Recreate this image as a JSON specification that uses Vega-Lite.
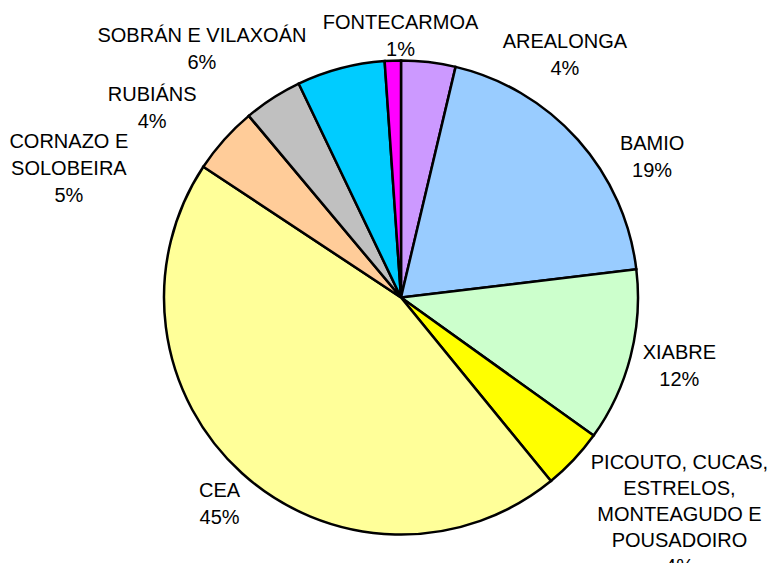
{
  "$schema": "https://vega.github.io/schema/vega-lite/v6.json",
  "width": 738,
  "height": 531,
  "padding": {"left": 32, "top": 32, "right": 0, "bottom": 0},
  "autosize": {"type": "none"},
  "background": "white",
  "config": {
    "view": {"stroke": null},
    "text": {"font": "Liberation Sans", "fontSize": 20, "color": "#000000"}
  },
  "data": {
    "values": [
      {"ord": 1, "parish": "AREALONGA", "label": "AREALONGA", "share": 3.7},
      {"ord": 2, "parish": "BAMIO", "label": "BAMIO", "share": 19.4},
      {"ord": 3, "parish": "XIABRE", "label": "XIABRE", "share": 11.8},
      {"ord": 4, "parish": "PICOUTO, CUCAS, ESTRELOS, MONTEAGUDO E POUSADOIRO", "label": "PICOUTO, CUCAS,\nESTRELOS,\nMONTEAGUDO E\nPOUSADOIRO", "share": 4.2},
      {"ord": 5, "parish": "CEA", "label": "CEA", "share": 45.2},
      {"ord": 6, "parish": "CORNAZO E SOLOBEIRA", "label": "CORNAZO E\nSOLOBEIRA", "share": 4.6},
      {"ord": 7, "parish": "RUBIÁNS", "label": "RUBIÁNS", "share": 4.0},
      {"ord": 8, "parish": "SOBRÁN E VILAXOÁN", "label": "SOBRÁN E VILAXOÁN", "share": 6.0},
      {"ord": 9, "parish": "FONTECARMOA", "label": "FONTECARMOA", "share": 1.1}
    ]
  },
  "transform": [
    {"stack": "share", "groupby": [], "sort": [{"field": "ord", "order": "ascending"}], "as": ["s0", "s1"]},
    {"calculate": "(datum.s0 + datum.s1) / 2", "as": "mid"},
    {"calculate": "datum.label + '\\n' + format(datum.share, '.0f') + '%'", "as": "txt"}
  ],
  "layer": [
    {
      "mark": {"type": "arc", "outerRadius": 237, "stroke": "#000000", "strokeWidth": 2.5},
      "encoding": {
        "theta": {"field": "s0", "type": "quantitative", "stack": null, "scale": {"domain": [0, 100]}},
        "theta2": {"field": "s1"},
        "color": {
          "field": "parish", "type": "nominal", "legend": null,
          "scale": {
            "domain": ["AREALONGA", "BAMIO", "XIABRE", "PICOUTO, CUCAS, ESTRELOS, MONTEAGUDO E POUSADOIRO", "CEA", "CORNAZO E SOLOBEIRA", "RUBIÁNS", "SOBRÁN E VILAXOÁN", "FONTECARMOA"],
            "range": ["#CC99FF", "#99CCFF", "#CCFFCC", "#FFFF00", "#FFFF99", "#FFCC99", "#C0C0C0", "#00CCFF", "#FF00FF"]
          }
        }
      }
    },
    {
      "transform": [{"filter": "datum.parish === 'XIABRE'"}],
      "mark": {"type": "text", "radius": 275, "dx": 12, "dy": -13, "align": "center", "baseline": "middle", "lineBreak": "\n", "lineHeight": 27},
      "encoding": {"theta": {"field": "mid", "type": "quantitative", "stack": null, "scale": {"domain": [0, 100]}}, "text": {"field": "txt"}}
    },
    {
      "transform": [{"filter": "datum.parish === 'CEA'"}],
      "mark": {"type": "text", "radius": 275, "dx": 3, "dy": -10, "align": "center", "baseline": "middle", "lineBreak": "\n", "lineHeight": 27},
      "encoding": {"theta": {"field": "mid", "type": "quantitative", "stack": null, "scale": {"domain": [0, 100]}}, "text": {"field": "txt"}}
    },
    {
      "transform": [{"filter": "datum.parish === 'AREALONGA'"}],
      "mark": {"type": "text", "radius": 275, "dx": 132, "dy": 18, "align": "center", "baseline": "middle", "lineBreak": "\n", "lineHeight": 27},
      "encoding": {"theta": {"field": "mid", "type": "quantitative", "stack": null, "scale": {"domain": [0, 100]}}, "text": {"field": "txt"}}
    },
    {
      "transform": [{"filter": "datum.parish === 'BAMIO'"}],
      "mark": {"type": "text", "radius": 275, "dx": 46, "dy": 30, "align": "center", "baseline": "middle", "lineBreak": "\n", "lineHeight": 27},
      "encoding": {"theta": {"field": "mid", "type": "quantitative", "stack": null, "scale": {"domain": [0, 100]}}, "text": {"field": "txt"}}
    },
    {
      "transform": [{"filter": "datum.ord === 4"}],
      "mark": {"type": "text", "radius": 275, "dx": 78, "dy": -23, "align": "center", "baseline": "middle", "lineBreak": "\n", "lineHeight": 26},
      "encoding": {"theta": {"field": "mid", "type": "quantitative", "stack": null, "scale": {"domain": [0, 100]}}, "text": {"field": "txt"}}
    },
    {
      "transform": [{"filter": "datum.ord === 6"}],
      "mark": {"type": "text", "radius": 275, "dx": -127, "dy": 28, "align": "center", "baseline": "middle", "lineBreak": "\n", "lineHeight": 27},
      "encoding": {"theta": {"field": "mid", "type": "quantitative", "stack": null, "scale": {"domain": [0, 100]}}, "text": {"field": "txt"}}
    },
    {
      "transform": [{"filter": "datum.ord === 7"}],
      "mark": {"type": "text", "radius": 275, "dx": -100, "dy": 29, "align": "center", "baseline": "middle", "lineBreak": "\n", "lineHeight": 27},
      "encoding": {"theta": {"field": "mid", "type": "quantitative", "stack": null, "scale": {"domain": [0, 100]}}, "text": {"field": "txt"}}
    },
    {
      "transform": [{"filter": "datum.ord === 8"}],
      "mark": {"type": "text", "radius": 275, "dx": -129, "dy": 4, "align": "center", "baseline": "middle", "lineBreak": "\n", "lineHeight": 27},
      "encoding": {"theta": {"field": "mid", "type": "quantitative", "stack": null, "scale": {"domain": [0, 100]}}, "text": {"field": "txt"}}
    },
    {
      "transform": [{"filter": "datum.ord === 9"}],
      "mark": {"type": "text", "radius": 275, "dx": 9, "dy": 0, "align": "center", "baseline": "middle", "lineBreak": "\n", "lineHeight": 27},
      "encoding": {"theta": {"field": "mid", "type": "quantitative", "stack": null, "scale": {"domain": [0, 100]}}, "text": {"field": "txt"}}
    }
  ]
}
